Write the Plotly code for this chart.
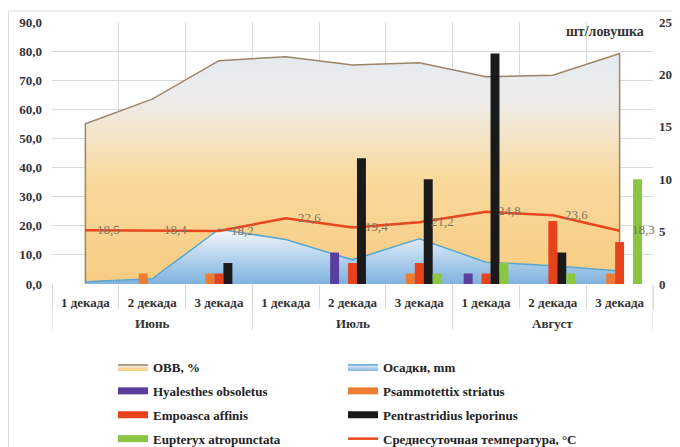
import plotly.graph_objects as go

# ---------------- data ----------------
months = ["Июнь"] * 3 + ["Июль"] * 3 + ["Август"] * 3
decades = ["1 декада", "2 декада", "3 декада"] * 3

ovv = [55.0, 63.5, 76.7, 78.1, 75.2, 76.0, 71.2, 71.7, 79.2]          # ОВВ, %
precip = [0.8, 1.8, 18.8, 15.3, 8.3, 15.5, 7.5, 6.3, 4.5]             # Осадки, mm
temp = [18.5, 18.4, 18.2, 22.6, 19.4, 21.2, 24.8, 23.6, 18.3]          # °C

hyalesthes = [0, 0, 0, 0, 3, 0, 1, 0, 0]
psammotettix = [0, 1, 1, 0, 0, 1, 0, 0, 1]
empoasca = [0, 0, 1, 0, 2, 2, 1, 6, 4]
pentrastridius = [0, 0, 2, 0, 12, 10, 22, 3, 0]
eupteryx = [0, 0, 0, 0, 0, 1, 2, 1, 10]

y_ticks = [0, 10, 20, 30, 40, 50, 60, 70, 80, 90]
y2_ticks = [0, 5, 10, 15, 20, 25]

# ---------------- geometry (screen px of the reference; page body adds 8px) ----------------
OFF = 8
W, H = 680, 447
PLOT_L, PLOT_R, PLOT_T, PLOT_B = 52 - OFF, 653 - OFF, 22 - OFF, 284 - OFF
pw, ph = PLOT_R - PLOT_L, PLOT_B - PLOT_T


def px_x(sx):
    return (sx - OFF - PLOT_L) / pw


def px_y(sy):
    return (PLOT_B - (sy - OFF)) / ph


SERIF = "Liberation Serif, Times New Roman, serif"
GRID = "#d9d9d9"
idx = list(range(len(decades)))

fig = go.Figure()

# ОВВ area (closed outline, as in the original)
fig.add_trace(go.Scatter(
    x=[idx[0]] + idx + [idx[-1]], y=[0] + ovv + [0], name="ОВВ, %", mode="lines",
    fill="toself",
    line=dict(color="#9c8466", width=1.5),
    fillgradient=dict(type="vertical",
                      colorscale=[[0, "#f7cc82"], [0.45, "#f9d99c"],
                                  [0.78, "#eeece8"], [1, "#e3eaf2"]],
                      start=0, stop=80),
    legend="legend", legendgroup="ovv", hoverinfo="skip"))

# Осадки area
fig.add_trace(go.Scatter(
    x=idx, y=precip, name="Осадки, mm", mode="lines", fill="tozeroy",
    line=dict(color="#5aa6cf", width=1.5),
    fillgradient=dict(type="vertical",
                      colorscale=[[0, "#7fb2de"], [0.5, "#b3d2ee"], [1, "#f2f5f9"]],
                      start=0, stop=18),
    legend="legend2", legendgroup="precip", hoverinfo="skip"))

# temperature line
fig.add_trace(go.Scatter(
    x=idx, y=temp, name="Среднесуточная температура, °С", mode="lines",
    line=dict(color="#e8461e", width=2.5), showlegend=False))

bar_series = [
    ("Hyalesthes obsoletus", hyalesthes, "#5a3e9e"),
    ("Psammotettix striatus", psammotettix, "#ee7d31"),
    ("Empoasca affinis", empoasca, "#e8421c"),
    ("Pentrastridius leporinus", pentrastridius, "#1b1a1a"),
    ("Eupteryx atropunctata", eupteryx, "#8cc640"),
]
for name, vals, col in bar_series:
    fig.add_trace(go.Bar(x=idx, y=vals, name=name, marker=dict(color=col, line=dict(width=0)),
                         yaxis="y2", showlegend=False))

# legend entries (wide flat symbols as in the original)
legend_order = [
    ("Hyalesthes obsoletus", "#5a3e9e", "legend"),
    ("Empoasca affinis", "#e8421c", "legend"),
    ("Eupteryx atropunctata", "#8cc640", "legend"),
    ("Psammotettix striatus", "#ee7d31", "legend2"),
    ("Pentrastridius leporinus", "#1b1a1a", "legend2"),
]
for name, col, lg in legend_order:
    fig.add_trace(go.Scatter(x=[None], y=[None], mode="lines",
                             line=dict(color=col, width=7), name=name,
                             legend=lg, legendgroup=name, yaxis="y2"))
fig.add_trace(go.Scatter(x=[None], y=[None], mode="lines",
                         line=dict(color="#e8461e", width=2.5),
                         name="Среднесуточная температура, °С",
                         legend="legend2", legendgroup="temp2"))

# temperature value labels (drawn on top, like the original)
for i, v in zip(idx, temp):
    fig.add_annotation(x=i, y=v, xref="x", yref="y", text=f"{v:.1f}".replace(".", ","),
                       showarrow=False, xanchor="left", yanchor="middle", xshift=10, yshift=1,
                       font=dict(family=SERIF, size=13, color="#7d7466"))

# month group labels and dividers
month_names = list(dict.fromkeys(months))
bounds = [-0.5]
for m in month_names:
    pos = [i for i, mm in zip(idx, months) if mm == m]
    fig.add_annotation(x=sum(pos) / len(pos), y=px_y(323), xref="x", yref="paper",
                       text=f"<b>{m}</b>", showarrow=False, yanchor="middle",
                       font=dict(family=SERIF, size=13, color="#333333"))
    bounds.append(pos[-1] + 0.5)
for b in bounds:
    fig.add_shape(type="line", xref="x", yref="paper", x0=b, x1=b,
                  y0=0, y1=px_y(330), line=dict(color=GRID, width=1))

# frame around whole chart
fig.add_shape(type="rect", xref="paper", yref="paper",
              x0=px_x(8.5), x1=px_x(700), y0=px_y(470), y1=px_y(11),
              line=dict(color="#dcdcdc", width=1), fillcolor="rgba(0,0,0,0)", layer="below")

fig.add_annotation(text="<b>шт/ловушка</b>", xref="paper", yref="paper",
                   x=px_x(605), y=px_y(32), showarrow=False,
                   xanchor="center", yanchor="middle",
                   font=dict(family=SERIF, size=14, color="#333333"))

legend_font = dict(family=SERIF, size=13, color="#222222", weight="bold")
fig.update_layout(
    width=W, height=H,
    margin=dict(l=PLOT_L, r=W - PLOT_R, t=PLOT_T, b=H - PLOT_B, autoexpand=False),
    paper_bgcolor="white", plot_bgcolor="white",
    separators=", ",
    barmode="group", bargap=0.33, bargroupgap=0,
    font=dict(family=SERIF, size=12, color="#333333"),
    xaxis=dict(range=[-0.5, len(idx) - 0.5], tickvals=idx, ticktext=decades,
               ticks="", showgrid=False, zeroline=False, showline=False,
               ticklabelstandoff=9,
               minor=dict(tick0=0.5, dtick=1, ticks="outside", ticklen=24, tickcolor=GRID,
                          showgrid=True, gridcolor=GRID),
               tickfont=dict(family=SERIF, size=13, color="#333333", weight="bold"),
               automargin=False),
    yaxis=dict(range=[0, 90], tickvals=y_ticks, tickformat=".1f",
               showgrid=True, gridcolor=GRID, zeroline=False, showline=False,
               tickfont=dict(family=SERIF, size=13, color="#333333", weight="bold"),
               ticklabelstandoff=9, automargin=False),
    yaxis2=dict(range=[0, 25], tickvals=y2_ticks, overlaying="y", side="right",
                showgrid=False, zeroline=False, showline=False,
                tickfont=dict(family=SERIF, size=13, color="#333333", weight="bold"),
                ticklabelstandoff=5, automargin=False),
    legend=dict(x=px_x(113), y=px_y(352), xanchor="left", yanchor="top",
                orientation="v", traceorder="grouped", tracegroupgap=4,
                font=legend_font, bgcolor="rgba(0,0,0,0)", itemwidth=30),
    legend2=dict(x=px_x(343), y=px_y(352), xanchor="left", yanchor="top",
                 orientation="v", traceorder="grouped", tracegroupgap=4,
                 font=legend_font, bgcolor="rgba(0,0,0,0)", itemwidth=30),
    showlegend=True,
)

fig.write_html("out.html")
